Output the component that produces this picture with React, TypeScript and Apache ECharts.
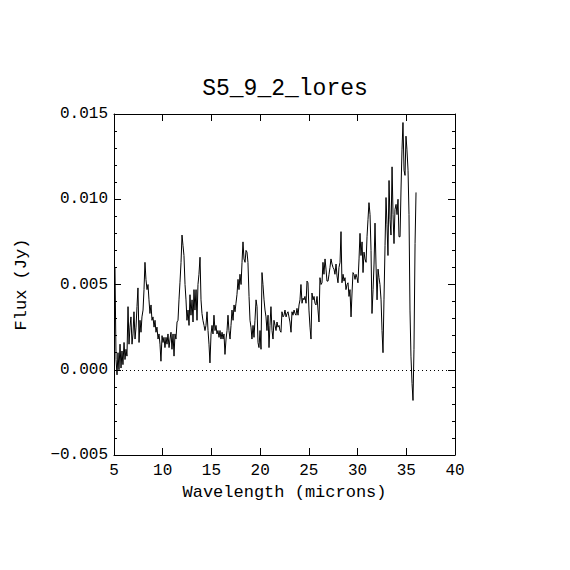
import React, { useEffect, useRef } from "react";
import * as echarts from "echarts";

const titleText = "S5_9_2_lores";
const xName = "Wavelength (microns)";
const yName = "Flux (Jy)";

const wavelengths = [
  5.10, 5.21, 5.31, 5.41, 5.51, 5.62, 5.72, 5.82, 5.92, 6.03,
  6.13, 6.23, 6.33, 6.44, 6.54, 6.64, 6.74, 6.85, 6.95, 7.05,
  7.16, 7.26, 7.36, 7.46, 7.57, 7.67, 7.77, 7.87, 7.98, 8.08,
  8.18, 8.28, 8.39, 8.49, 8.59, 8.69, 8.80, 8.90, 9.00, 9.11,
  9.21, 9.31, 9.41, 9.52, 9.62, 9.72, 9.82, 9.93, 10.03, 10.13,
  10.23, 10.34, 10.44, 10.54, 10.65, 10.75, 10.85, 10.95, 11.06, 11.16,
  11.26, 11.36, 11.47, 11.57, 11.67, 11.77, 11.88, 11.98, 12.08, 12.18,
  12.29, 12.39, 12.49, 12.60, 12.70, 12.80, 12.90, 13.01, 13.11, 13.21,
  13.31, 13.42, 13.52, 13.62, 13.72, 13.83, 13.93, 14.03, 14.13, 14.24,
  14.34, 14.44, 14.55, 14.65, 14.75, 14.85, 14.96, 15.06, 15.16, 15.26,
  15.37, 15.47, 15.57, 15.67, 15.78, 15.88, 15.98, 16.09, 16.19, 16.29,
  16.39, 16.50, 16.60, 16.70, 16.80, 16.91, 17.01, 17.11, 17.22, 17.32,
  17.42, 17.52, 17.62, 17.73, 17.83, 17.93, 18.04, 18.14, 18.24, 18.34,
  18.45, 18.55, 18.65, 18.75, 18.86, 18.96, 19.06, 19.16, 19.27, 19.37,
  19.47, 19.58, 19.68, 19.78, 19.88, 19.99, 20.09, 20.19, 20.29, 20.40,
  20.50, 20.60, 20.70, 20.81, 20.91, 21.01, 21.11, 21.22, 21.32, 21.42,
  21.53, 21.63, 21.73, 21.83, 21.94, 22.04, 22.14, 22.24, 22.35, 22.45,
  22.55, 22.66, 22.76, 22.86, 22.96, 23.06, 23.17, 23.27, 23.37, 23.48,
  23.58, 23.68, 23.78, 23.89, 23.99, 24.09, 24.19, 24.30, 24.40, 24.50,
  24.60, 24.71, 24.81, 24.91, 25.01, 25.12, 25.22, 25.32, 25.43, 25.53,
  25.63, 25.73, 25.84, 25.94, 26.04, 26.14, 26.25, 26.35, 26.45, 26.55,
  26.66, 26.76, 26.86, 26.97, 27.07, 27.17, 27.27, 27.38, 27.48, 27.58,
  27.68, 27.79, 27.89, 27.99, 28.09, 28.20, 28.30, 28.40, 28.51, 28.61,
  28.71, 28.81, 28.92, 29.02, 29.12, 29.22, 29.33, 29.43, 29.53, 29.63,
  29.74, 29.84, 29.94, 30.04, 30.15, 30.25, 30.35, 30.46, 30.56, 30.66,
  30.76, 30.87, 30.97, 31.07, 31.17, 31.28, 31.38, 31.48, 31.59, 31.69,
  31.79, 31.89, 32.00, 32.10, 32.20, 32.30, 32.41, 32.51, 32.61, 32.71,
  32.82, 32.92, 33.02, 33.12, 33.23, 33.33, 33.43, 33.54, 33.64, 33.74,
  33.84, 33.95, 34.05, 34.15, 34.25, 34.36, 34.46, 34.56, 34.66, 34.77,
  34.87, 34.97, 35.07, 35.18, 35.28, 35.38, 35.48, 35.59, 35.69, 35.79,
  35.90, 36.00,
];

const flux = [
  0.0060, 0.0006, -0.0003, 0.0010, 0.0000, 0.0015, 0.0001, 0.0011, 0.0003, 0.0016,
  0.0006, 0.0012, 0.0008, 0.0037, 0.0015, 0.0025, 0.0031, 0.0015, 0.0021, 0.0034,
  0.0018, 0.0025, 0.0037, 0.0048, 0.0016, 0.0029, 0.0022, 0.0031, 0.0035, 0.0047,
  0.0063, 0.0053, 0.0047, 0.0050, 0.0041, 0.0033, 0.0038, 0.0029, 0.0031, 0.0025,
  0.0029, 0.0022, 0.0025, 0.0018, 0.0021, 0.0015, 0.0005, 0.0020, 0.0016, 0.0019,
  0.0013, 0.0019, 0.0015, 0.0021, 0.0013, 0.0018, 0.0022, 0.0012, 0.0021, 0.0008,
  0.0021, 0.0018, 0.0028, 0.0029, 0.0041, 0.0051, 0.0063, 0.0079, 0.0073, 0.0067,
  0.0050, 0.0041, 0.0029, 0.0035, 0.0026, 0.0044, 0.0032, 0.0041, 0.0028, 0.0047,
  0.0035, 0.0047, 0.0029, 0.0050, 0.0056, 0.0066, 0.0041, 0.0033, 0.0029, 0.0026,
  0.0023, 0.0026, 0.0034, 0.0023, 0.0015, 0.0004, 0.0021, 0.0026, 0.0021, 0.0032,
  0.0023, 0.0026, 0.0021, 0.0023, 0.0019, 0.0023, 0.0018, 0.0022, 0.0018, 0.0021,
  0.0009, 0.0018, 0.0023, 0.0032, 0.0023, 0.0018, 0.0026, 0.0035, 0.0029, 0.0038,
  0.0034, 0.0039, 0.0044, 0.0053, 0.0047, 0.0056, 0.0050, 0.0063, 0.0075, 0.0065,
  0.0063, 0.0070, 0.0069, 0.0063, 0.0043, 0.0029, 0.0025, 0.0018, 0.0026, 0.0019,
  0.0029, 0.0041, 0.0037, 0.0016, 0.0013, 0.0023, 0.0012, 0.0057, 0.0050, 0.0041,
  0.0035, 0.0031, 0.0023, 0.0032, 0.0013, 0.0026, 0.0037, 0.0023, 0.0018, 0.0029,
  0.0026, 0.0023, 0.0028, 0.0025, 0.0026, 0.0023, 0.0022, 0.0034, 0.0031, 0.0032,
  0.0035, 0.0031, 0.0033, 0.0034, 0.0031, 0.0028, 0.0022, 0.0034, 0.0032, 0.0035,
  0.0033, 0.0032, 0.0036, 0.0032, 0.0038, 0.0041, 0.0050, 0.0039, 0.0042, 0.0041,
  0.0043, 0.0039, 0.0052, 0.0051, 0.0035, 0.0025, 0.0018, 0.0045, 0.0041, 0.0043,
  0.0039, 0.0038, 0.0043, 0.0035, 0.0028, 0.0054, 0.0050, 0.0051, 0.0063, 0.0056,
  0.0065, 0.0059, 0.0052, 0.0052, 0.0056, 0.0060, 0.0065, 0.0062, 0.0060, 0.0059,
  0.0056, 0.0062, 0.0055, 0.0051, 0.0060, 0.0063, 0.0081, 0.0051, 0.0056, 0.0052,
  0.0054, 0.0047, 0.0050, 0.0051, 0.0043, 0.0047, 0.0031, 0.0045, 0.0057, 0.0056,
  0.0053, 0.0056, 0.0054, 0.0051, 0.0065, 0.0080, 0.0067, 0.0075, 0.0057, 0.0069,
  0.0065, 0.0063, 0.0078, 0.0088, 0.0098, 0.0091, 0.0070, 0.0033, 0.0047, 0.0062,
  0.0086, 0.0062, 0.0041, 0.0059, 0.0054, 0.0050, 0.0041, 0.0023, 0.0010, 0.0041,
  0.0073, 0.0101, 0.0085, 0.0067, 0.0111, 0.0088, 0.0079, 0.0119, 0.0091, 0.0074,
  0.0094, 0.0097, 0.0091, 0.0100, 0.0078, 0.0078, 0.0106, 0.0129, 0.0145, 0.0117,
  0.0114, 0.0137, 0.0129, 0.0117, 0.0091, 0.0035, 0.0008, -0.0008, -0.0018, 0.0012,
  0.0074, 0.0104,
];

const xMin = 5;
const xMax = 40;
const xStep = 5;
const yMin = -0.005;
const yMax = 0.015;
const yStep = 0.005;

const FONT = "Liberation Mono";

export default function App() {
  const ref = useRef<HTMLDivElement>(null);

  useEffect(() => {
    if (!ref.current) return;
    const chart = echarts.init(ref.current, null, { renderer: "svg" });
    const seriesData = wavelengths.map((w, i) => [w, flux[i]]);
    const axisLineStyle = { color: "#000", width: 1 };
    chart.setOption({
      animation: false,
      backgroundColor: "#fff",
      textStyle: { fontFamily: FONT, color: "#000" },
      title: {
        text: titleText,
        left: "center",
        top: 72,
        textStyle: { fontFamily: FONT, fontSize: 23, fontWeight: "normal", color: "#000" },
      },
      grid: { left: 114, top: 114, width: 341, height: 341, containLabel: false },
      xAxis: [
        {
          type: "value",
          min: xMin,
          max: xMax,
          interval: xStep,
          position: "bottom",
          name: xName,
          nameLocation: "middle",
          nameGap: 29,
          nameTextStyle: { fontFamily: FONT, fontSize: 17, color: "#000" },
          axisLine: { show: true, onZero: false, lineStyle: axisLineStyle },
          axisTick: { show: true, inside: true, length: 7, lineStyle: axisLineStyle },
          axisLabel: { show: true, margin: 8, fontFamily: FONT, fontSize: 16, color: "#000" },
          splitLine: { show: false },
        },
        {
          type: "value",
          min: xMin,
          max: xMax,
          interval: xStep,
          position: "top",
          axisLine: { show: true, onZero: false, lineStyle: axisLineStyle },
          axisTick: { show: true, inside: true, length: 7, lineStyle: axisLineStyle },
          axisLabel: { show: false },
          splitLine: { show: false },
        },
      ],
      yAxis: [
        {
          type: "value",
          min: yMin,
          max: yMax,
          interval: yStep,
          position: "left",
          name: yName,
          nameLocation: "middle",
          nameRotate: 90,
          nameGap: 84,
          nameTextStyle: { fontFamily: FONT, fontSize: 17, color: "#000" },
          axisLine: { show: true, onZero: false, lineStyle: axisLineStyle },
          axisTick: { show: true, inside: true, length: 7, lineStyle: axisLineStyle },
          minorTick: { show: true, splitNumber: 5, length: 3, lineStyle: axisLineStyle },
          axisLabel: {
            show: true,
            margin: 6,
            fontFamily: FONT,
            fontSize: 16,
            color: "#000",
            formatter: (v: number) => {
              const s = Math.abs(v) < 1e-12 ? "0.000" : v.toFixed(3);
              return s.replace("-", "\u2212");
            },
          },
          splitLine: { show: false },
          minorSplitLine: { show: false },
        },
        {
          type: "value",
          min: yMin,
          max: yMax,
          interval: yStep,
          position: "right",
          axisLine: { show: true, onZero: false, lineStyle: axisLineStyle },
          axisTick: { show: true, inside: true, length: 7, lineStyle: axisLineStyle },
          minorTick: { show: true, splitNumber: 5, length: 3, lineStyle: axisLineStyle },
          axisLabel: { show: false },
          splitLine: { show: false },
          minorSplitLine: { show: false },
        },
      ],
      series: [
        {
          type: "line",
          xAxisIndex: 0,
          yAxisIndex: 0,
          data: seriesData,
          showSymbol: false,
          symbol: "none",
          lineStyle: { color: "#000", width: 1 },
          silent: true,
          markLine: {
            silent: true,
            symbol: ["none", "none"],
            label: { show: false },
            lineStyle: { color: "#000", width: 1, type: [1, 3] },
            data: [{ yAxis: 0 }],
          },
        },
      ],
    });
    return () => chart.dispose();
  }, []);

  return (
    <div
      ref={ref}
      style={{ position: "fixed", left: 0, top: 0, width: 570, height: 570, background: "#fff" }}
    />
  );
}
